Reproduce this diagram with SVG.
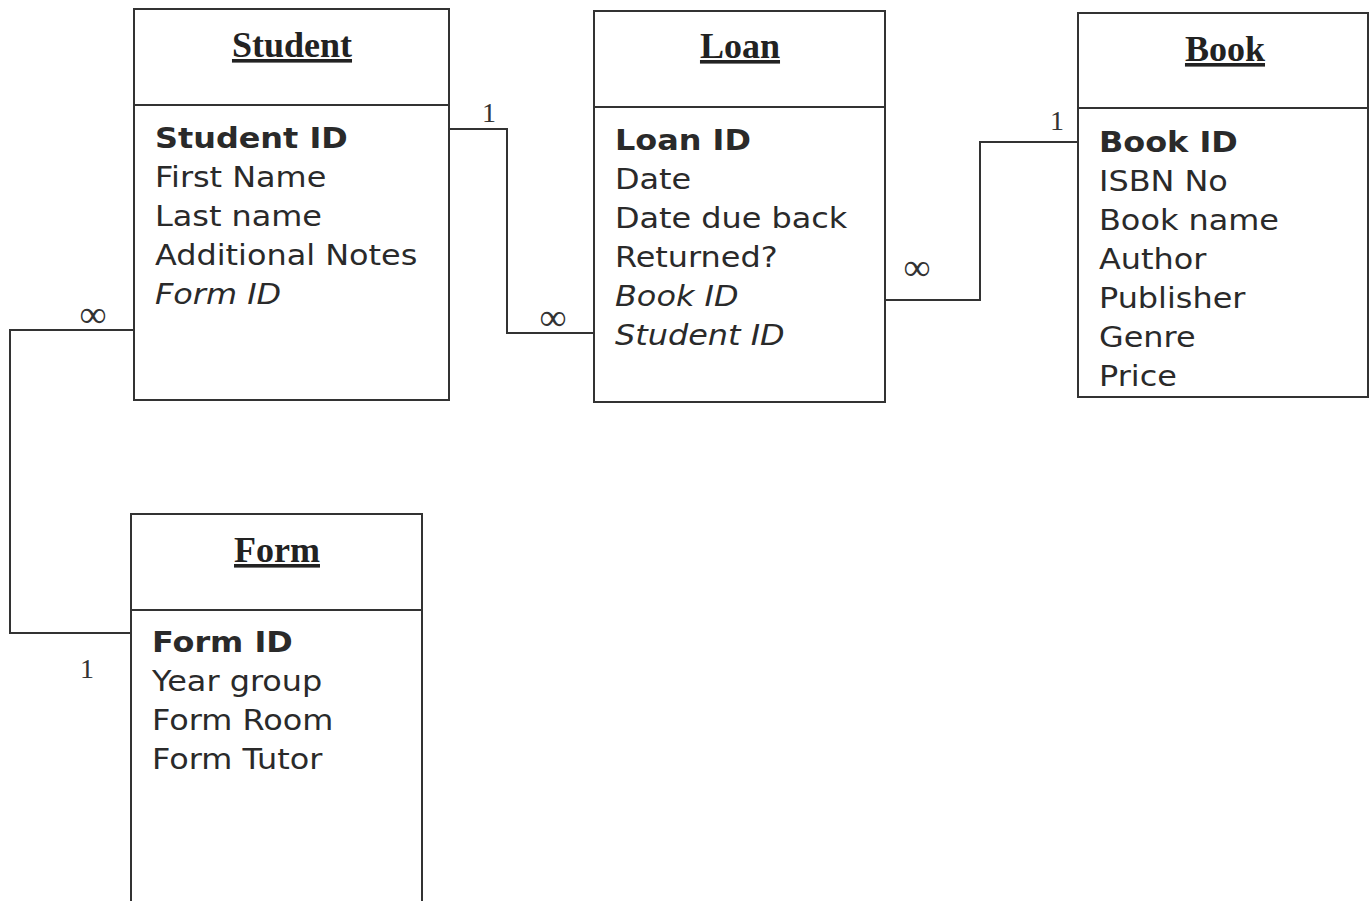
<svg xmlns="http://www.w3.org/2000/svg" width="1371" height="901" viewBox="0 0 1371 901">
<style>
.box{fill:#fff;stroke:#333;stroke-width:2}
.div{stroke:#333;stroke-width:2}
.title{font-family:"Liberation Serif","Times New Roman",serif;font-weight:bold;font-size:36px;fill:#222;text-anchor:middle;text-decoration:underline}
.attr{font-family:"DejaVu Sans",Verdana,sans-serif;font-size:29px;fill:#2a2a2a}
.pk{font-weight:bold}
.fk{font-style:italic}
.conn{fill:none;stroke:#333;stroke-width:2}
.lbl{font-family:"Liberation Serif","Times New Roman",serif;font-size:28px;fill:#333;text-anchor:middle}
.inf{font-family:"Liberation Serif","Times New Roman",serif;font-size:38px;fill:#333;text-anchor:middle}
</style>
<rect width="1371" height="901" fill="#fff"/>
<g id="connectors">
<polyline class="conn" points="449,129 507,129 507,333 594,333"/>
<polyline class="conn" points="885,300 980,300 980,142 1078,142"/>
<polyline class="conn" points="134,330 10,330 10,633 131,633"/>
<text class="lbl" x="489" y="122">1</text>
<text class="inf" x="553" y="330">∞</text>
<text class="lbl" x="1057" y="130">1</text>
<text class="inf" x="917" y="280">∞</text>
<text class="inf" x="93" y="327">∞</text>
<text class="lbl" x="87" y="678">1</text>
</g>
<g id="student">
<rect class="box" x="134" y="9" width="315" height="391"/>
<line class="div" x1="134" y1="105" x2="449" y2="105"/>
<text class="title" x="292" y="57">Student</text>
<text class="attr" transform="translate(155,148) scale(1.1,1)"><tspan class="pk" x="0" y="0">Student ID</tspan><tspan x="0" y="39">First Name</tspan><tspan x="0" y="78">Last name</tspan><tspan x="0" y="117">Additional Notes</tspan><tspan class="fk" x="0" y="156">Form ID</tspan></text>
</g>
<g id="loan">
<rect class="box" x="594" y="11" width="291" height="391"/>
<line class="div" x1="594" y1="107" x2="885" y2="107"/>
<text class="title" x="740" y="58">Loan</text>
<text class="attr" transform="translate(615,150) scale(1.1,1)"><tspan class="pk" x="0" y="0">Loan ID</tspan><tspan x="0" y="39">Date</tspan><tspan x="0" y="78">Date due back</tspan><tspan x="0" y="117">Returned?</tspan><tspan class="fk" x="0" y="156">Book ID</tspan><tspan class="fk" x="0" y="195">Student ID</tspan></text>
</g>
<g id="book">
<rect class="box" x="1078" y="13" width="290" height="384"/>
<line class="div" x1="1078" y1="108" x2="1368" y2="108"/>
<text class="title" x="1225" y="61">Book</text>
<text class="attr" transform="translate(1099,152) scale(1.1,1)"><tspan class="pk" x="0" y="0">Book ID</tspan><tspan x="0" y="39">ISBN No</tspan><tspan x="0" y="78">Book name</tspan><tspan x="0" y="117">Author</tspan><tspan x="0" y="156">Publisher</tspan><tspan x="0" y="195">Genre</tspan><tspan x="0" y="234">Price</tspan></text>
</g>
<g id="form">
<rect class="box" x="131" y="514" width="291" height="400"/>
<line class="div" x1="131" y1="610" x2="422" y2="610"/>
<text class="title" x="277" y="562">Form</text>
<text class="attr" transform="translate(152,652) scale(1.1,1)"><tspan class="pk" x="0" y="0">Form ID</tspan><tspan x="0" y="39">Year group</tspan><tspan x="0" y="78">Form Room</tspan><tspan x="0" y="117">Form Tutor</tspan></text>
</g>
</svg>
